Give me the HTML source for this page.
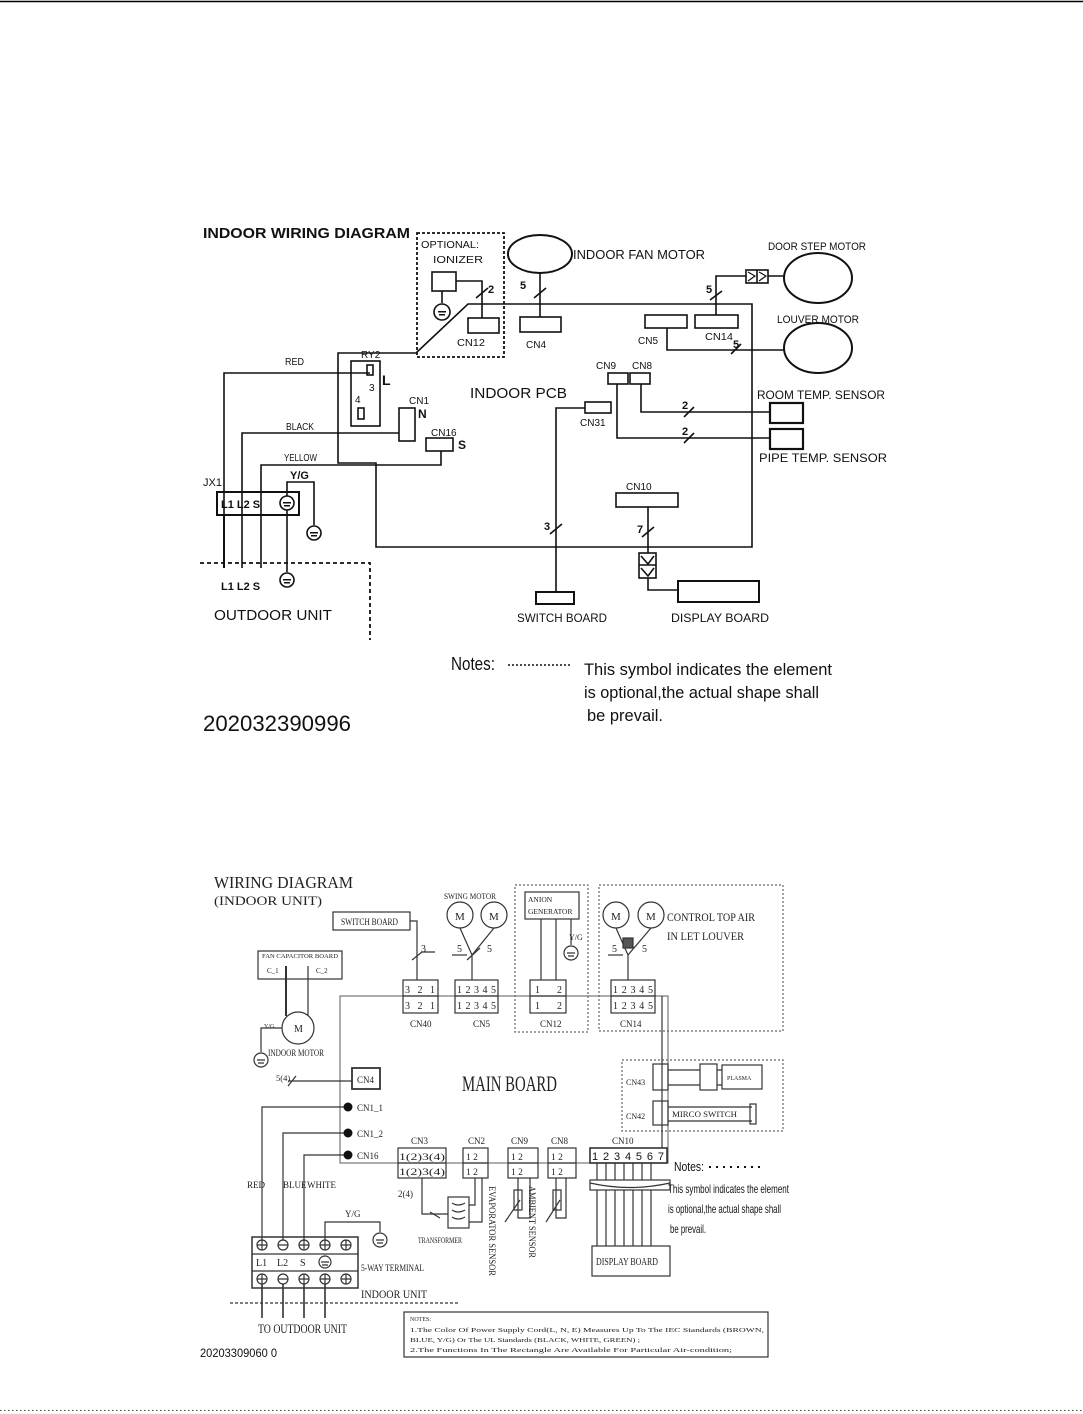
<!DOCTYPE html>
<html><head><meta charset="utf-8"><style>
html,body{margin:0;padding:0;background:#fff;width:1083px;height:1414px;overflow:hidden}
svg{display:block}
.s{font-family:"Liberation Sans",sans-serif;fill:#111}
.f{font-family:"Liberation Serif",serif;fill:#222}
</style></head><body>
<svg width="1083" height="1414" viewBox="0 0 1083 1414" xmlns="http://www.w3.org/2000/svg">
<line x1="0" y1="1.5" x2="1083" y2="1.5" stroke="#000" stroke-width="1.5"/>
<line x1="0" y1="1410.5" x2="1083" y2="1410.5" stroke="#444" stroke-width="1" stroke-dasharray="1.5,2.5"/>

<!-- ============ TOP DIAGRAM ============ -->
<g stroke="#111" stroke-width="1.6" fill="none">
<polyline points="416,353 468,304 752,304 752,547 376,547 376,463 338,463 338,353 416,353"/>
<rect x="417" y="233" width="87" height="124" stroke-dasharray="3,2" stroke-width="1.8"/>
<rect x="432" y="272" width="24" height="19"/>
<line x1="442" y1="291" x2="442" y2="303"/>
<circle cx="442" cy="312" r="8"/>
<polyline points="456,281 482,281 482,318"/>
<line x1="476" y1="298" x2="488" y2="288"/>
<rect x="468" y="318" width="31" height="15"/>
<ellipse cx="540" cy="254" rx="32" ry="19" stroke-width="2"/>
<line x1="540" y1="273" x2="540" y2="317"/>
<line x1="534" y1="298" x2="546" y2="288"/>
<rect x="520" y="317" width="41" height="15"/>
<rect x="645" y="315" width="42" height="13"/>
<rect x="695" y="315" width="43" height="13"/>
<polyline points="716,315 716,276 746,276"/>
<line x1="710" y1="300" x2="722" y2="291"/>
<rect x="746" y="270" width="22" height="13"/>
<line x1="757" y1="270" x2="757" y2="283"/>
<polyline points="748,272 755,276 748,281" stroke-width="1.2"/>
<polyline points="759,272 766,276 759,281" stroke-width="1.2"/>
<line x1="768" y1="276" x2="785" y2="276"/>
<ellipse cx="818" cy="278" rx="34" ry="25" stroke-width="2"/>
<polyline points="667,328 667,350 785,350"/>
<line x1="731" y1="354" x2="741" y2="344"/>
<ellipse cx="818" cy="348" rx="34" ry="25" stroke-width="2"/>
<rect x="608" y="373" width="20" height="11"/>
<rect x="630" y="373" width="20" height="11"/>
<polyline points="641,384 641,412 770,412"/>
<polyline points="617,384 617,438 770,438"/>
<line x1="684" y1="417" x2="694" y2="407"/>
<line x1="684" y1="443" x2="694" y2="433"/>
<rect x="770" y="403" width="33" height="20" stroke-width="2.2"/>
<rect x="770" y="429" width="33" height="20" stroke-width="2.2"/>
<rect x="585" y="402" width="26" height="11"/>
<polyline points="585,408 556,408 556,592"/>
<line x1="550" y1="534" x2="562" y2="524"/>
<rect x="536" y="592" width="38" height="12" stroke-width="2"/>
<rect x="616" y="493" width="62" height="14"/>
<line x1="648" y1="507" x2="648" y2="553"/>
<line x1="642" y1="537" x2="654" y2="527"/>
<rect x="639" y="553" width="17" height="25"/>
<line x1="639" y1="565" x2="656" y2="565"/>
<polyline points="641,556 648,564 654,556"/>
<polyline points="641,568 648,576 654,568"/>
<polyline points="648,578 648,590 678,590"/>
<rect x="678" y="581" width="81" height="21" stroke-width="2"/>
<rect x="351" y="361" width="29" height="65"/>
<rect x="367" y="365" width="6" height="10"/>
<rect x="358" y="408" width="6" height="11"/>
<polyline points="370,373 224,373 224,568"/>
<rect x="399" y="408" width="16" height="33"/>
<polyline points="399,433 242,433 242,568"/>
<rect x="426" y="438" width="27" height="13"/>
<polyline points="441,451 441,465 261,465 261,568"/>
<rect x="217" y="492" width="82" height="23" stroke-width="2"/>
<circle cx="287" cy="503" r="7"/>
<polyline points="287,496 287,482 314,482 314,525"/>
<circle cx="314" cy="533" r="7"/>
<line x1="287" y1="510" x2="287" y2="572"/>
<circle cx="287" cy="580" r="7"/>
<line x1="224" y1="515" x2="224" y2="568" stroke-width="2"/>
<polyline points="200,563 370,563 370,640" stroke-dasharray="4,3" stroke-width="1.8"/>
</g>
<g fill="#111">
<rect x="438" y="311" width="8" height="1.5"/><rect x="439" y="314" width="6" height="1.5"/>
<rect x="283" y="502" width="8" height="1.5"/><rect x="284" y="505" width="6" height="1.5"/>
<rect x="310" y="532" width="8" height="1.5"/><rect x="311" y="535" width="6" height="1.5"/>
<rect x="283" y="579" width="8" height="1.5"/><rect x="284" y="582" width="6" height="1.5"/>
</g>
<g class="s">
<text x="203" y="238" font-size="15" font-weight="bold" textLength="207" lengthAdjust="spacingAndGlyphs">INDOOR WIRING DIAGRAM</text>
<text x="421" y="248" font-size="10.5" textLength="58" lengthAdjust="spacingAndGlyphs">OPTIONAL:</text>
<text x="433" y="263" font-size="10.5" textLength="50" lengthAdjust="spacingAndGlyphs">IONIZER</text>
<text x="488" y="293" font-size="11" font-weight="bold">2</text>
<text x="457" y="346" font-size="10" textLength="28" lengthAdjust="spacingAndGlyphs">CN12</text>
<text x="520" y="289" font-size="11" font-weight="bold">5</text>
<text x="526" y="348" font-size="10">CN4</text>
<text x="573" y="259" font-size="12.5" textLength="132" lengthAdjust="spacingAndGlyphs">INDOOR FAN MOTOR</text>
<text x="768" y="250" font-size="11" textLength="98" lengthAdjust="spacingAndGlyphs">DOOR STEP MOTOR</text>
<text x="777" y="323" font-size="11" textLength="82" lengthAdjust="spacingAndGlyphs">LOUVER MOTOR</text>
<text x="706" y="293" font-size="11" font-weight="bold">5</text>
<text x="638" y="344" font-size="10">CN5</text>
<text x="705" y="340" font-size="10" textLength="28" lengthAdjust="spacingAndGlyphs">CN14</text>
<text x="733" y="348" font-size="11" font-weight="bold">5</text>
<text x="596" y="369" font-size="10">CN9</text>
<text x="632" y="369" font-size="10">CN8</text>
<text x="470" y="398" font-size="15" textLength="97" lengthAdjust="spacingAndGlyphs">INDOOR PCB</text>
<text x="682" y="409" font-size="11" font-weight="bold">2</text>
<text x="682" y="435" font-size="11" font-weight="bold">2</text>
<text x="757" y="399" font-size="12" textLength="128" lengthAdjust="spacingAndGlyphs">ROOM TEMP. SENSOR</text>
<text x="759" y="462" font-size="12" textLength="128" lengthAdjust="spacingAndGlyphs">PIPE TEMP. SENSOR</text>
<text x="580" y="426" font-size="10">CN31</text>
<text x="626" y="490" font-size="10">CN10</text>
<text x="544" y="530" font-size="11" font-weight="bold">3</text>
<text x="637" y="533" font-size="11" font-weight="bold">7</text>
<text x="517" y="622" font-size="12" textLength="90" lengthAdjust="spacingAndGlyphs">SWITCH BOARD</text>
<text x="671" y="622" font-size="12" textLength="98" lengthAdjust="spacingAndGlyphs">DISPLAY BOARD</text>
<text x="285" y="365" font-size="10.5" textLength="19" lengthAdjust="spacingAndGlyphs">RED</text>
<text x="361" y="358" font-size="10">RY2</text>
<text x="382" y="385" font-size="14" font-weight="bold">L</text>
<text x="369" y="391" font-size="10">3</text>
<text x="355" y="403" font-size="10">4</text>
<text x="409" y="404" font-size="10">CN1</text>
<text x="418" y="418" font-size="12" font-weight="bold">N</text>
<text x="286" y="430" font-size="10.5" textLength="28" lengthAdjust="spacingAndGlyphs">BLACK</text>
<text x="431" y="436" font-size="10">CN16</text>
<text x="458" y="449" font-size="12" font-weight="bold">S</text>
<text x="284" y="461" font-size="10.5" textLength="33" lengthAdjust="spacingAndGlyphs">YELLOW</text>
<text x="290" y="479" font-size="11" font-weight="bold">Y/G</text>
<text x="203" y="486" font-size="11">JX1</text>
<text x="221" y="508" font-size="11" font-weight="bold">L1 L2 S</text>
<text x="221" y="590" font-size="11" font-weight="bold">L1 L2 S</text>
<text x="214" y="620" font-size="15" textLength="118" lengthAdjust="spacingAndGlyphs">OUTDOOR UNIT</text>
<text x="451" y="670" font-size="18" textLength="44" lengthAdjust="spacingAndGlyphs">Notes:</text>
<text x="584" y="675" font-size="17" textLength="248" lengthAdjust="spacingAndGlyphs">This symbol  indicates the element</text>
<text x="584" y="698" font-size="17" textLength="235" lengthAdjust="spacingAndGlyphs">is optional,the actual shape shall</text>
<text x="587" y="721" font-size="17" textLength="76" lengthAdjust="spacingAndGlyphs">be prevail.</text>
<text x="203" y="731" font-size="22" textLength="148" lengthAdjust="spacingAndGlyphs">202032390996</text>
</g>
<line x1="508" y1="665" x2="572" y2="665" stroke="#111" stroke-width="1.5" stroke-dasharray="2,2"/>

<!-- ============ BOTTOM DIAGRAM ============ -->
<g stroke="#333" stroke-width="1.2" fill="none">
<rect x="340" y="996" width="328" height="167" stroke="#777"/>
<rect x="333" y="912" width="77" height="18"/>
<polyline points="410,921 417,921 417,980"/>
<polyline points="412,960 422,952 435,952"/>
<rect x="403" y="980" width="35" height="33"/><line x1="403" y1="996" x2="438" y2="996"/>
<circle cx="460" cy="915" r="13"/><circle cx="494" cy="915" r="13"/>
<polyline points="460,928 472,955 472,980"/><polyline points="494,928 472,955"/>
<polyline points="452,955 467,955 M476,955 500,955"/>
<line x1="467" y1="960" x2="480" y2="948"/>
<rect x="455" y="980" width="43" height="33"/><line x1="455" y1="996" x2="498" y2="996"/>
<rect x="515" y="885" width="73" height="147" stroke-dasharray="2,2" stroke="#666"/>
<rect x="525" y="892" width="54" height="27"/>
<line x1="541" y1="919" x2="541" y2="980"/><line x1="556" y1="919" x2="556" y2="980"/>
<line x1="571" y1="919" x2="571" y2="945"/><circle cx="571" cy="953" r="7"/>
<path d="M567,953H575 M568,956H574"/>
<rect x="530" y="980" width="36" height="33"/><line x1="530" y1="996" x2="566" y2="996"/>
<rect x="599" y="885" width="184" height="146" stroke-dasharray="2,2" stroke="#666"/>
<circle cx="616" cy="915" r="13"/><circle cx="651" cy="915" r="13"/>
<polyline points="616,928 628,955 628,980"/><polyline points="651,928 628,955"/>
<polyline points="608,955 623,955 M633,955 658,955"/>
<rect x="623" y="938" width="10" height="10" fill="#555"/>
<rect x="611" y="980" width="44" height="33"/><line x1="611" y1="996" x2="655" y2="996"/>
<rect x="258" y="951" width="84" height="28"/>
<line x1="286" y1="966" x2="286" y2="1016" stroke-width="2"/><line x1="308" y1="966" x2="308" y2="1016"/>
<circle cx="298" cy="1028" r="16"/>
<polyline points="282,1028 261,1028 261,1052"/><circle cx="261" cy="1060" r="7"/>
<path d="M257,1060H265 M258,1063H264"/>
<line x1="288" y1="1081" x2="352" y2="1081"/>
<line x1="288" y1="1086" x2="296" y2="1076"/>
<rect x="352" y="1068" width="28" height="21" stroke-width="1.8"/>
<polyline points="345,1107 262,1107 262,1240"/>
<polyline points="345,1133 283,1133 283,1240"/>
<polyline points="345,1155 304,1155 304,1240"/>
<rect x="398" y="1148" width="48" height="30"/><line x1="398" y1="1163" x2="446" y2="1163"/>
<rect x="463" y="1148" width="25" height="30"/><line x1="463" y1="1163" x2="488" y2="1163"/>
<rect x="508" y="1148" width="30" height="30"/><line x1="508" y1="1163" x2="538" y2="1163"/>
<rect x="548" y="1148" width="28" height="30"/><line x1="548" y1="1163" x2="576" y2="1163"/>
<rect x="590" y="1148" width="77" height="15" stroke-width="1.6"/>
<polyline points="422,1178 422,1214 448,1214"/>
<line x1="430" y1="1212" x2="440" y2="1218"/>
<rect x="448" y="1197" width="21" height="31"/>
<path d="M452,1203 Q458,1207 465,1203 M452,1210 Q458,1214 465,1210 M452,1217 Q458,1221 465,1217"/>
<polyline points="469,1205 475,1205 475,1178"/><polyline points="469,1222 482,1222 482,1178"/>
<polyline points="518,1178 518,1218 530,1218 530,1178"/><rect x="514" y="1190" width="8" height="20"/>
<polyline points="556,1178 556,1218 566,1218 566,1178"/><rect x="553" y="1190" width="8" height="20"/>
<line x1="505" y1="1222" x2="520" y2="1200"/><line x1="546" y1="1222" x2="560" y2="1200"/>
<path d="M597,1163V1246 M606,1163V1246 M615,1163V1246 M624,1163V1246 M633,1163V1246 M642,1163V1246 M651,1163V1246"/>
<rect x="590" y="1180" width="80" height="10" fill="#fff"/>
<path d="M590,1183 Q630,1192 670,1183"/>
<rect x="592" y="1246" width="78" height="30"/>
<rect x="622" y="1060" width="161" height="71" stroke-dasharray="2,2" stroke="#666"/>
<line x1="662" y1="996" x2="662" y2="1148"/>
<rect x="653" y="1064" width="15" height="26"/><rect x="653" y="1101" width="15" height="24"/>
<path d="M668,1070H700 M668,1085H700"/>
<rect x="700" y="1064" width="17" height="26"/>
<path d="M717,1070H722 M717,1085H722"/>
<rect x="722" y="1065" width="40" height="24"/>
<path d="M668,1107H752 M668,1121H752"/><rect x="750" y="1104" width="6" height="20"/>
<rect x="252" y="1237" width="106" height="51" stroke-width="1.5"/>
<line x1="252" y1="1254" x2="358" y2="1254"/><line x1="252" y1="1271" x2="358" y2="1271"/>
<circle cx="262" cy="1245" r="5"/><circle cx="283" cy="1245" r="5"/><circle cx="304" cy="1245" r="5"/><circle cx="325" cy="1245" r="5"/><circle cx="346" cy="1245" r="5"/>
<circle cx="262" cy="1279" r="5"/><circle cx="283" cy="1279" r="5"/><circle cx="304" cy="1279" r="5"/><circle cx="325" cy="1279" r="5"/><circle cx="346" cy="1279" r="5"/>
<path d="M257,1245H267 M278,1245H288 M299,1245H309 M320,1245H330 M341,1245H351 M262,1240V1250 M304,1240V1250 M325,1240V1250 M346,1240V1250"/>
<path d="M257,1279H267 M278,1279H288 M299,1279H309 M320,1279H330 M341,1279H351 M262,1274V1284 M304,1274V1284 M325,1274V1284 M346,1274V1284"/>
<circle cx="325" cy="1262" r="6"/><path d="M321,1262H329 M322,1265H328"/>
<polyline points="325,1240 325,1222 380,1222 380,1232"/><circle cx="380" cy="1240" r="7"/>
<path d="M376,1240H384 M377,1243H383"/>
<path d="M262,1284V1318 M283,1284V1318 M304,1284V1318 M325,1284V1318" stroke-width="1.6"/>
<line x1="230" y1="1303" x2="460" y2="1303" stroke-dasharray="3,2"/>
<rect x="404" y="1312" width="364" height="45"/>
</g>
<g fill="#111">
<circle cx="348" cy="1107" r="4.5"/><circle cx="348" cy="1133" r="4.5"/><circle cx="348" cy="1155" r="4.5"/>
</g>
<g class="f">
<text x="214" y="888" font-size="17" textLength="139" lengthAdjust="spacingAndGlyphs">WIRING DIAGRAM</text>
<text x="214" y="905" font-size="12.5" textLength="108" lengthAdjust="spacingAndGlyphs">(INDOOR UNIT)</text>
<text x="341" y="925" font-size="9" textLength="57" lengthAdjust="spacingAndGlyphs">SWITCH BOARD</text>
<text x="444" y="899" font-size="8" textLength="52" lengthAdjust="spacingAndGlyphs">SWING MOTOR</text>
<text x="455" y="920" font-size="11">M</text><text x="489" y="920" font-size="11">M</text>
<text x="611" y="920" font-size="11">M</text><text x="646" y="920" font-size="11">M</text>
<text x="421" y="952" font-size="10">3</text>
<text x="457" y="952" font-size="10">5</text><text x="487" y="952" font-size="10">5</text>
<text x="612" y="952" font-size="10">5</text><text x="642" y="952" font-size="10">5</text>
<text x="528" y="902" font-size="7.5">ANION</text><text x="528" y="914" font-size="7.5">GENERATOR</text>
<text x="569" y="940" font-size="8">Y/G</text>
<text x="667" y="921" font-size="12" textLength="88" lengthAdjust="spacingAndGlyphs">CONTROL TOP AIR</text>
<text x="667" y="940" font-size="12" textLength="77" lengthAdjust="spacingAndGlyphs">IN LET LOUVER</text>
<text x="405" y="993" font-size="10" textLength="30">3 2 1</text><text x="405" y="1009" font-size="10" textLength="30">3 2 1</text>
<text x="457" y="993" font-size="10" textLength="39">12345</text><text x="457" y="1009" font-size="10" textLength="39">12345</text>
<text x="535" y="993" font-size="10" textLength="27">1  2</text><text x="535" y="1009" font-size="10" textLength="27">1  2</text>
<text x="613" y="993" font-size="10" textLength="40">12345</text><text x="613" y="1009" font-size="10" textLength="40">12345</text>
<text x="410" y="1027" font-size="9">CN40</text><text x="473" y="1027" font-size="9">CN5</text>
<text x="540" y="1027" font-size="9">CN12</text><text x="620" y="1027" font-size="9">CN14</text>
<text x="262" y="958" font-size="6.5" textLength="76" lengthAdjust="spacingAndGlyphs">FAN CAPACITOR BOARD</text>
<text x="267" y="973" font-size="7">C_1</text><text x="316" y="973" font-size="7">C_2</text>
<text x="294" y="1032" font-size="10">M</text>
<text x="264" y="1028" font-size="6">Y/G</text>
<text x="268" y="1056" font-size="9.5" textLength="56" lengthAdjust="spacingAndGlyphs">INDOOR MOTOR</text>
<text x="276" y="1081" font-size="8.5">5(4)</text>
<text x="357" y="1083" font-size="9">CN4</text>
<text x="462" y="1091" font-size="22" textLength="95" lengthAdjust="spacingAndGlyphs">MAIN BOARD</text>
<text x="357" y="1111" font-size="9">CN1_1</text><text x="357" y="1137" font-size="9">CN1_2</text><text x="357" y="1159" font-size="9">CN16</text>
<text x="247" y="1188" font-size="9">RED</text><text x="283" y="1188" font-size="9">BLUE</text><text x="307" y="1188" font-size="9">WHITE</text>
<text x="411" y="1144" font-size="9">CN3</text><text x="468" y="1144" font-size="9">CN2</text>
<text x="511" y="1144" font-size="9">CN9</text><text x="551" y="1144" font-size="9">CN8</text><text x="612" y="1144" font-size="9">CN10</text>
<text x="399" y="1160" font-size="9.5" textLength="46" lengthAdjust="spacingAndGlyphs">1(2)3(4)</text><text x="399" y="1175" font-size="9.5" textLength="46" lengthAdjust="spacingAndGlyphs">1(2)3(4)</text>
<text x="466" y="1160" font-size="9.5">1  2</text><text x="466" y="1175" font-size="9.5">1  2</text>
<text x="511" y="1160" font-size="9.5">1  2</text><text x="511" y="1175" font-size="9.5">1  2</text>
<text x="551" y="1160" font-size="9.5">1  2</text><text x="551" y="1175" font-size="9.5">1  2</text>
<text x="592" y="1160" class="s" font-size="11" textLength="72">1234567</text>
<text x="398" y="1197" font-size="9">2(4)</text>
<text x="418" y="1243" font-size="8.5" textLength="44" lengthAdjust="spacingAndGlyphs">TRANSFORMER</text>
<text transform="translate(489,1186) rotate(90)" font-size="9" textLength="90" lengthAdjust="spacingAndGlyphs">EVAPORATOR SENSOR</text>
<text transform="translate(529,1186) rotate(90)" font-size="9" textLength="72" lengthAdjust="spacingAndGlyphs">AMBIENT SENSOR</text>
<text x="596" y="1265" font-size="10" textLength="62" lengthAdjust="spacingAndGlyphs">DISPLAY BOARD</text>
<text x="626" y="1085" font-size="8">CN43</text><text x="626" y="1119" font-size="8">CN42</text>
<text x="727" y="1080" font-size="6">PLASMA</text>
<text x="672" y="1117" font-size="8.5" textLength="65" lengthAdjust="spacingAndGlyphs">MIRCO SWITCH</text>
<text x="345" y="1217" font-size="9">Y/G</text>
<text x="256" y="1266" font-size="10">L1</text><text x="277" y="1266" font-size="10">L2</text><text x="300" y="1266" font-size="10">S</text>
<text x="361" y="1271" font-size="9" textLength="63" lengthAdjust="spacingAndGlyphs">5-WAY TERMINAL</text>
<text x="361" y="1298" font-size="12" textLength="66" lengthAdjust="spacingAndGlyphs">INDOOR UNIT</text>
<text x="258" y="1333" font-size="13" textLength="89" lengthAdjust="spacingAndGlyphs">TO OUTDOOR UNIT</text>
<text x="410" y="1321" font-size="6">NOTES:</text>
<text x="410" y="1332" font-size="6.5" textLength="354" lengthAdjust="spacingAndGlyphs">1.The Color Of Power Supply Cord(L, N, E) Measures Up To The IEC Standards (BROWN,</text>
<text x="410" y="1342" font-size="6.5" textLength="230" lengthAdjust="spacingAndGlyphs">BLUE, Y/G)  Or The UL Standards (BLACK, WHITE, GREEN) ;</text>
<text x="410" y="1352" font-size="6.5" textLength="322" lengthAdjust="spacingAndGlyphs">2.The Functions In The Rectangle Are Available For Particular Air-condition;</text>
</g>
<g class="s">
<text x="674" y="1171" font-size="13" textLength="30" lengthAdjust="spacingAndGlyphs">Notes:</text>
<text x="668" y="1193" font-size="12" textLength="121" lengthAdjust="spacingAndGlyphs">This symbol  indicates the element</text>
<text x="668" y="1213" font-size="12" textLength="113" lengthAdjust="spacingAndGlyphs">is optional,the actual shape shall</text>
<text x="670" y="1233" font-size="12" textLength="36" lengthAdjust="spacingAndGlyphs">be prevail.</text>
<text x="200" y="1357" font-size="12" textLength="77" lengthAdjust="spacingAndGlyphs">20203309060 0</text>
</g>
<line x1="709" y1="1167" x2="765" y2="1167" stroke="#111" stroke-width="2" stroke-dasharray="2,5"/>
</svg>
</body></html>
